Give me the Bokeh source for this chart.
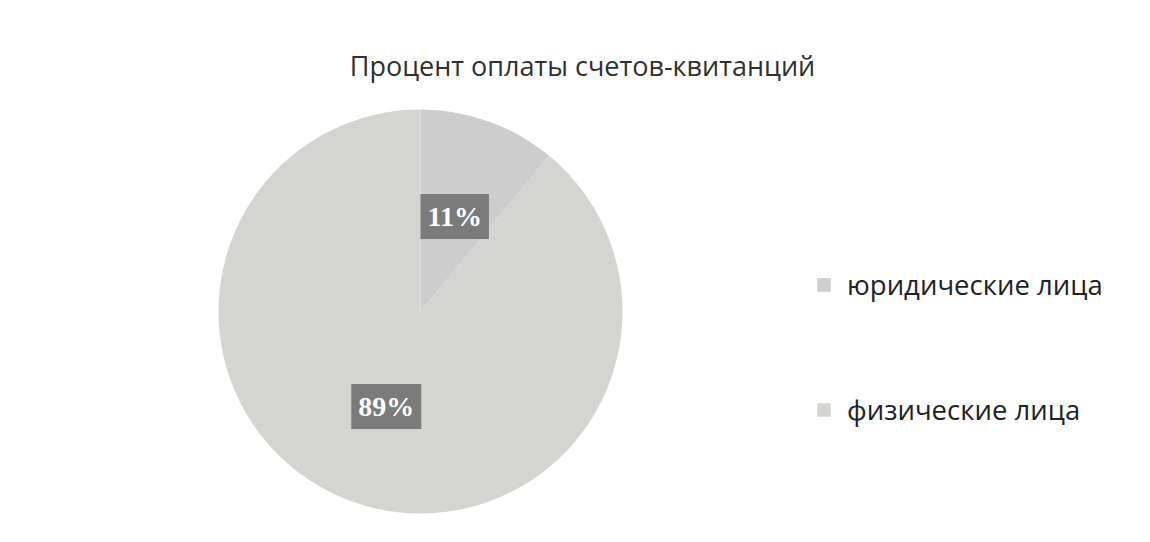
import numpy as np
from bokeh.plotting import figure
from bokeh.models import ColumnDataSource, Range1d, Legend, LegendItem
from bokeh.embed import file_html
from bokeh.resources import INLINE
from bokeh.core.properties import value

title_text = "Процент оплаты счетов-квитанций"
categories = ["юридические лица", "физические лица"]
shares = [11, 89]
colors = ["#cdcdcd", "#d4d4d1"]

W, H = 1134, 526
p = figure(width=W, height=H, x_range=Range1d(0, W), y_range=Range1d(0, H),
           output_backend="svg", toolbar_location=None, min_border=0)
p.axis.visible = False
p.grid.visible = False
p.outline_line_color = None
p.background_fill_color = "#ffffff"
p.border_fill_color = "#ffffff"

cx, cy, R = 420, H - 311, 202
vals = np.array(shares, dtype=float)
frac = vals / vals.sum()
cum = np.cumsum(frac)
start = np.pi / 2 - 2 * np.pi * (cum - frac)
end = np.pi / 2 - 2 * np.pi * cum
mid = (start + end) / 2
labels = [f"{int(round(v))}%" for v in vals]

src = ColumnDataSource(dict(
    cat=categories, start=start, end=end, color=colors,
    lx=cx + 0.5 * R * np.cos(mid), ly=cy + 0.5 * R * np.sin(mid), lab=labels,
    x=[cx] * len(vals), y=[cy] * len(vals),
))

wr = p.wedge(x="x", y="y", radius=R, radius_units="screen", start_angle="start", end_angle="end",
             direction="clock", fill_color="color", line_color=None, source=src)

p.text(x="lx", y="ly", text="lab", source=src, text_align="center", text_baseline="middle",
       text_color="#ffffff", text_font=value("Liberation Serif"), text_font_style="bold",
       text_font_size="28px", background_fill_color="#7b7b7b", padding=7)

p.text(x=[582], y=[H - 65], text=[title_text], text_align="center", text_baseline="alphabetic",
       text_color="#303030", text_font=value("Open Sans"), text_font_size="27px")

legend = Legend(items=[LegendItem(label=c, renderers=[wr], index=i) for i, c in enumerate(categories)],
                location=(815, 97), orientation="vertical", padding=0, margin=0,
                spacing=85, label_height=40, glyph_width=17, glyph_height=17, label_standoff=15,
                label_text_font="Open Sans", label_text_font_size="27.5px", label_text_color="#222222",
                border_line_color=None, background_fill_alpha=0)
p.add_layout(legend, "center")

open("out.html", "w").write(file_html(p, INLINE))
